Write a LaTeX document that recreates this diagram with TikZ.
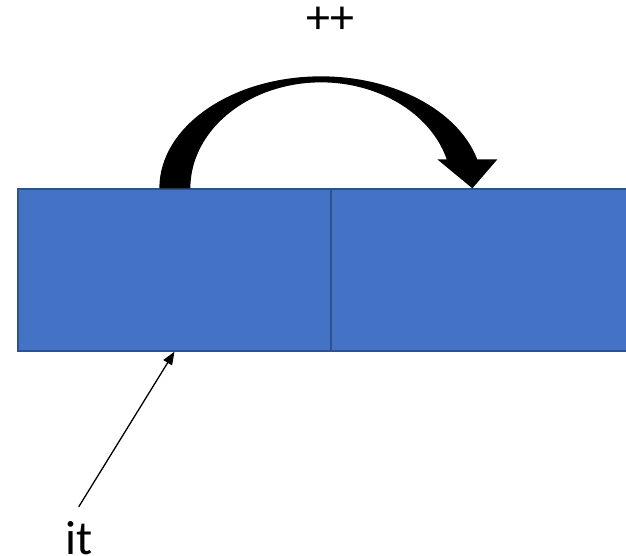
\documentclass[tikz,border=0pt]{standalone}
\usepackage{fontspec}
\setmainfont{Carlito}
\usetikzlibrary{arrows.meta,calc}
\definecolor{cellblue}{HTML}{4472C4}
\definecolor{cellline}{HTML}{2F528F}

\begin{document}
\begin{tikzpicture}[x=1pt,y=-1pt,
  cell/.style={draw=cellline,fill=cellblue,line width=1.3pt,minimum width=313pt,minimum height=162pt,inner sep=0pt},
  lbl/.style={inner sep=0pt,font=\fontsize{48}{58}\selectfont}]
\useasboundingbox (0,0) rectangle (626,556);
\clip (0,0) rectangle (626,556);
\node[cell] (a) at (174.5,270) {};
\node[cell] (b) at (487.5,270) {};
\node[lbl,anchor=base] (inc) at (330.5,34) {++};
\node[lbl,anchor=base west] (it) at (65,554) {it};
\coordinate (from) at ($(a.north west)+(142,0)$);
\coordinate (to) at ($(b.north west)+(142,0)$);
\fill (from) arc[start angle=180,end angle=345,x radius=161.7,y radius=112]
  -- ($(to)+(25,-29)$) -- (to) -- ($(to)+(-35,-29)$) -- ($(to)+(-25.6,-29)$)
  arc[start angle=344.1,end angle=180,x radius=130.7,y radius=106] -- cycle;
\draw[-{Triangle[length=13pt,width=10pt]},line width=1.3pt] ([yshift=14pt]it.north) -- (a.south);
\end{tikzpicture}
\end{document}
